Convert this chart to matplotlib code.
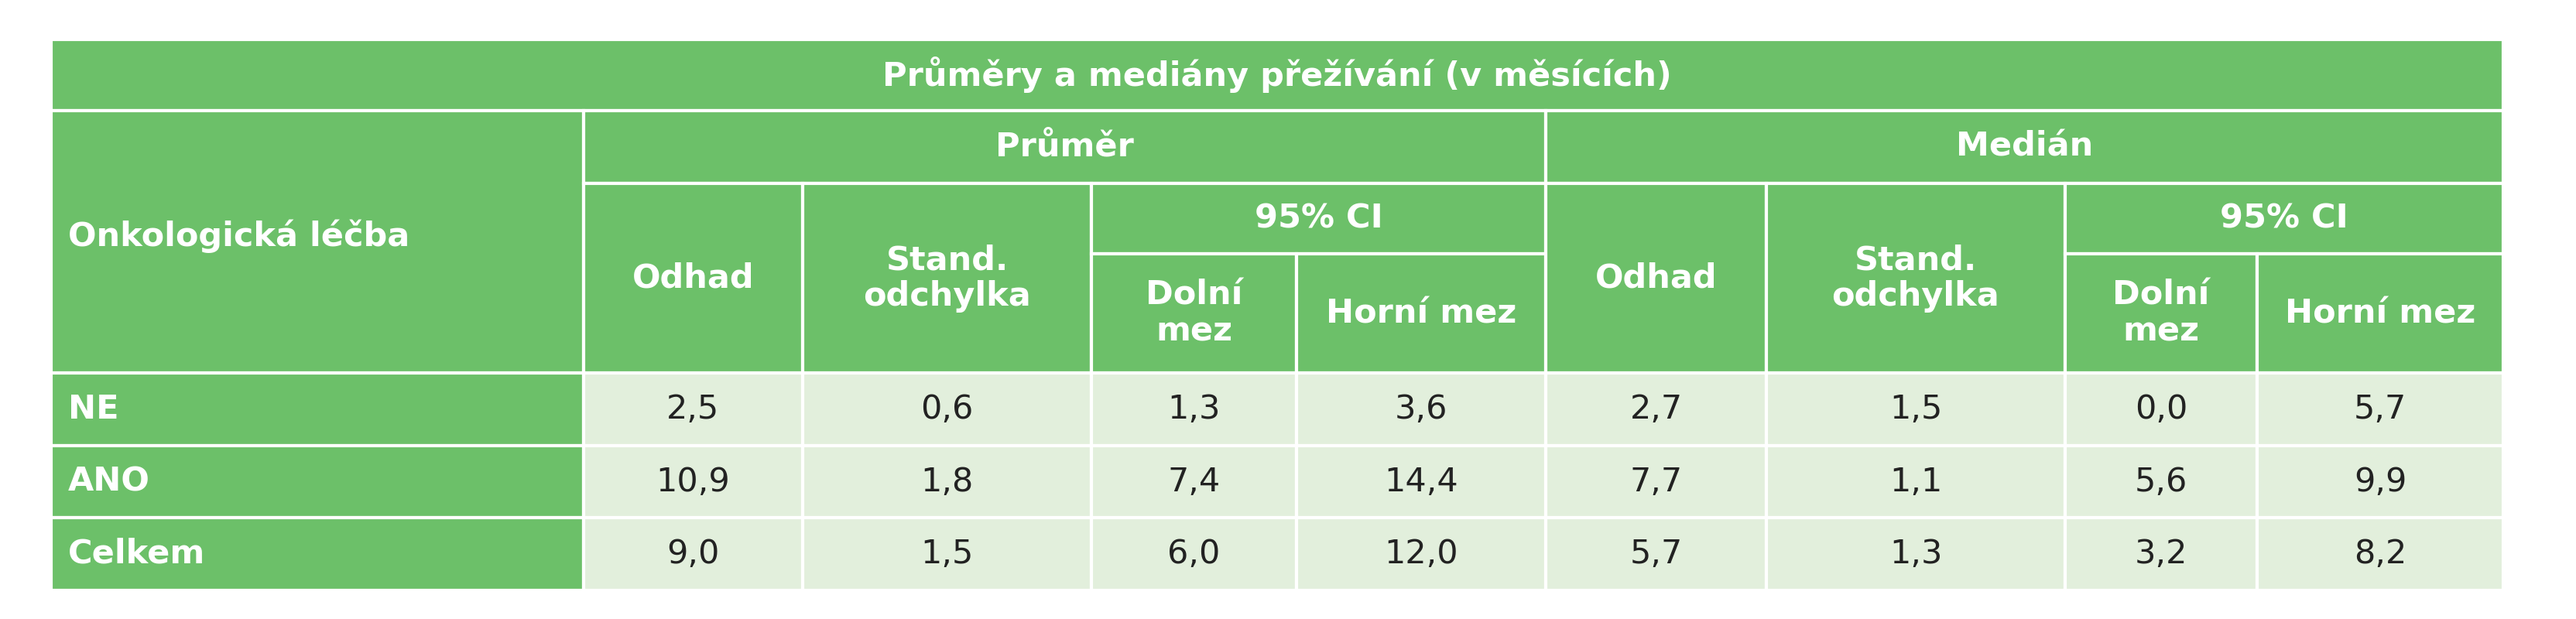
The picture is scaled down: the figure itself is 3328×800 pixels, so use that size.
import matplotlib.pyplot as plt
from matplotlib.patches import Rectangle

plt.rcParams['font.family'] = ['Liberation Sans Narrow', 'DejaVu Sans']

title = "Průměry a mediány přežívání (v měsících)"
groups = ["Průměr", "Medián"]
sub_cols = ["Odhad", "Stand.\nodchylka"]
ci_label = "95% CI"
ci_cols = ["Dolní\nmez", "Horní mez"]
row_header = "Onkologická léčba"
rows = ["NE", "ANO", "Celkem"]
values = [
    ["2,5", "0,6", "1,3", "3,6", "2,7", "1,5", "0,0", "5,7"],
    ["10,9", "1,8", "7,4", "14,4", "7,7", "1,1", "5,6", "9,9"],
    ["9,0", "1,5", "6,0", "12,0", "5,7", "1,3", "3,2", "8,2"],
]

green = "#6cc069"
light = "#e2efdc"
W, H = 3328, 800
xs = [66, 754, 1037, 1410, 1675, 1997, 2282, 2668, 2916, 3234]
ys = [51, 143, 237, 328, 482, 576, 669, 763]

fig = plt.figure(figsize=(W / 100, H / 100), dpi=100)
ax = fig.add_axes([0, 0, 1, 1])
ax.set_xlim(0, W)
ax.set_ylim(H, 0)
ax.axis('off')


def cell(x0, x1, y0, y1, text, fc=green, color="white", ha="center", weight="bold"):
    ax.add_patch(Rectangle((x0, y0), x1 - x0, y1 - y0, facecolor=fc,
                           edgecolor="white", linewidth=3))
    tx = (x0 + x1) / 2 if ha == "center" else x0 + 22
    ax.text(tx, (y0 + y1) / 2, text, ha=ha, va="center", color=color,
            fontsize=31, fontweight=weight, linespacing=1.15)


cell(xs[0], xs[-1], ys[0], ys[1], title)
cell(xs[0], xs[1], ys[1], ys[4], "", ha="left")
ax.text(xs[0] + 22, 305, row_header, ha="left", va="center", color="white",
        fontsize=31, fontweight="bold")
for g, name in enumerate(groups):
    b = 1 + g * 4
    cell(xs[b], xs[b + 4], ys[1], ys[2], name)
    cell(xs[b], xs[b + 1], ys[2], ys[4], sub_cols[0])
    cell(xs[b + 1], xs[b + 2], ys[2], ys[4], sub_cols[1])
    cell(xs[b + 2], xs[b + 4], ys[2], ys[3], ci_label)
    cell(xs[b + 2], xs[b + 3], ys[3], ys[4], ci_cols[0])
    cell(xs[b + 3], xs[b + 4], ys[3], ys[4], ci_cols[1])

for r, name in enumerate(rows):
    y0, y1 = ys[4 + r], ys[5 + r]
    cell(xs[0], xs[1], y0, y1, name, ha="left")
    for c, v in enumerate(values[r]):
        cell(xs[1 + c], xs[2 + c], y0, y1, v, fc=light, color="#222222", weight="normal")

fig.savefig("out.png", dpi=100, facecolor="white")
